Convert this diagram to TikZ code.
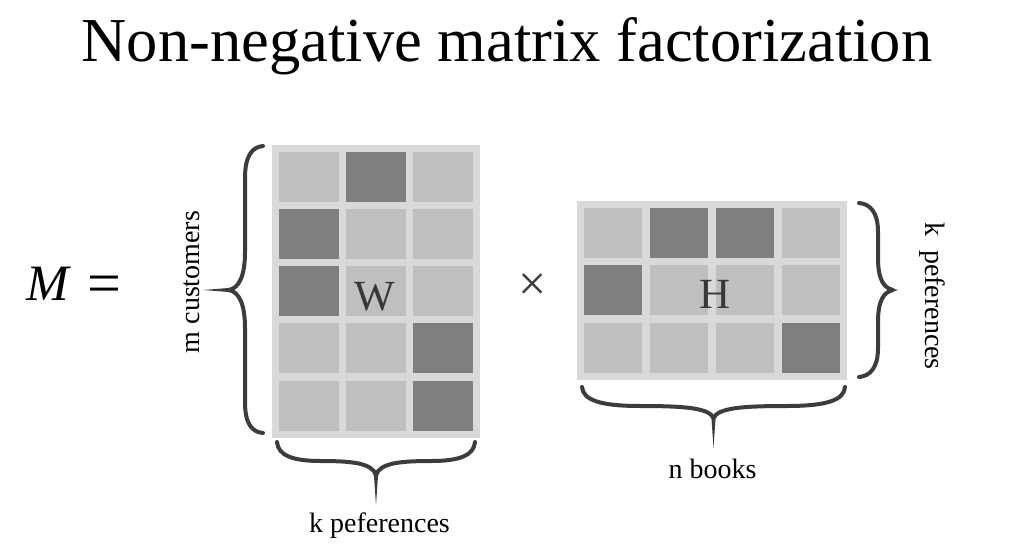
\documentclass[tikz,border=0pt]{standalone}
\usepackage{fontspec}
\setmainfont{Liberation Serif}
\definecolor{framegray}{HTML}{D9D9D9}
\definecolor{cellL}{HTML}{BFBFBF}
\definecolor{cellD}{HTML}{7F7F7F}
\definecolor{braceGray}{HTML}{3C3C3C}
\definecolor{lettergray}{HTML}{383838}
\begin{document}
\begin{tikzpicture}[x=1pt,y=-1pt,
  framebox/.style={fill=framegray, inner sep=0pt, outer sep=0pt},
  cellbox/.style={inner sep=0pt, outer sep=0pt},
  brace/.style={draw=braceGray, line width=4pt, line cap=round, line join=round},
  spike/.style={fill=braceGray, draw=none},
  lbl/.style={font=\fontsize{28}{30}\selectfont, text=black, inner sep=0pt},
  mlabel/.style={font=\fontsize{43}{46}\selectfont, text=lettergray, inner sep=0pt}]
\useasboundingbox (0,0) rectangle (1022,553);
\fill[white] (0,0) rectangle (1022,553);

% title
\node[inner sep=0pt, anchor=base, font=\fontsize{62.5}{70}\selectfont] (title) at (507,62) {Non-negative matrix factorization};

% M =
\node[inner sep=0pt, anchor=base west, font=\fontsize{51}{55}\selectfont] (Meq) at (26,300) {\itshape M\upshape\hspace{19pt}\raisebox{-3pt}{\fontsize{60}{60}\selectfont =}};

% W matrix
\node[framebox, minimum width=207.4pt, minimum height=293pt] (Wframe) at (376,291.2) {};
\foreach \row [count=\ri from 0] in {{L,D,L},{D,L,L},{D,L,L},{L,L,D},{L,L,D}} {
  \foreach \s [count=\ci from 0] in \row {
    \node[cellbox, fill=cell\s, minimum width=60pt, minimum height=50pt] (W-\ri-\ci) at ({309.3+66.7*\ci},{176.7+57.25*\ri}) {};
  }
}
\node[mlabel, anchor=base] (Wlbl) at (375,310) {W};

% times sign
\node[inner sep=0pt, font=\fontsize{50}{52}\selectfont, text=braceGray] (times) at (533,287) {×};

% H matrix
\node[framebox, minimum width=269.7pt, minimum height=179.6pt] (Hframe) at (712.2,290.5) {};
\foreach \row [count=\ri from 0] in {{L,D,D,L},{D,L,L,L},{L,L,L,D}} {
  \foreach \s [count=\ci from 0] in \row {
    \node[cellbox, fill=cell\s, minimum width=58pt, minimum height=50pt] (H-\ri-\ci) at ({613.3+65.8*\ci},{232.7+57.7*\ri}) {};
  }
}
\node[mlabel, anchor=base] (Hlbl) at (715,308) {H};

% left brace (W rows)
\draw[brace] (263,146) .. controls (252,147) and (245,156) .. (245,178) -- (245,252)
  .. controls (245,276) and (239,288) .. (229,290)
  .. controls (239,292) and (245,304) .. (245,328) -- (245,402)
  .. controls (245,424) and (252,432) .. (263,433);
\fill[spike] (231,287.8) -- (203,290) -- (231,292.2) -- cycle;

% bottom brace (W cols)
\draw[brace] (277,442) .. controls (278,455) and (292,461) .. (320,461)
  .. controls (352,461) and (372,463) .. (376,475)
  .. controls (380,463) and (400,461) .. (432,461)
  .. controls (460,461) and (474,455) .. (475,442);
\fill[spike] (373.8,473) -- (376,505) -- (378.2,473) -- cycle;

% bottom brace (H cols)
\draw[brace] (582,387) .. controls (583,400) and (600,406) .. (640,406)
  .. controls (685,406) and (709,408) .. (713.5,418)
  .. controls (718,408) and (742,406) .. (787,406)
  .. controls (827,406) and (844,400) .. (845,387);
\fill[spike] (711.3,416) -- (713.5,448) -- (715.7,416) -- cycle;

% right brace (H rows)
\draw[brace] (859,203) .. controls (870,204) and (878,212) .. (878,232) -- (878,258)
  .. controls (878,280) and (884,288) .. (893,290)
  .. controls (884,292) and (878,300) .. (878,322) -- (878,348)
  .. controls (878,368) and (870,376) .. (859,377);
\fill[spike] (891,288) -- (898,290) -- (891,292) -- cycle;

% labels
\node[lbl, rotate=90, anchor=base] (mcust) at (199,282) {m customers};
\node[lbl, anchor=base] (kpefW) at (379.5,532) {k peferences};
\node[lbl, anchor=base] (nbooks) at (712.5,478) {n books};
\node[lbl, rotate=-90, anchor=base] (kpefH) at (925,296) {k\ \ peferences};
\end{tikzpicture}
\end{document}
